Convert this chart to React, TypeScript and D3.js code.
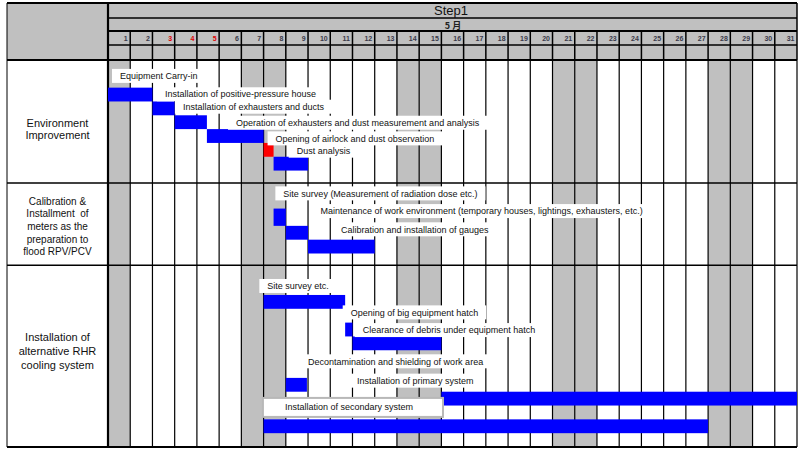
import { useEffect, useRef } from "react";
import * as d3 from "d3";

// schedule data (days counted from start of May, rows in sheet line units)
const days = d3.range(1, 32);
const weekendDays = [1, 7, 8, 14, 15, 21, 22, 28, 29];
const holidayDays = [3, 4, 5];

const groupNames = [
  ["Environment", "Improvement"],
  ["Calibration &", "Installment  of", "meters as the", "preparation to", "flood RPV/PCV"],
  ["Installation of", "alternative RHR", "cooling system"],
];
const groupEnds = [8.9, 14.85, 28];

const taskNames = [
  "Equipment Carry-in",
  "Installation of positive-pressure house",
  "Installation of exhausters and ducts",
  "Operation of exhausters and dust measurement and analysis",
  "Opening of airlock and dust observation",
  "Dust analysis",
  "Site survey (Measurement of radiation dose etc.)",
  "Maintenance of work environment (temporary houses, lightings, exhausters, etc.)",
  "Calibration and installation of gauges",
  "Site survey etc.",
  "Opening of big equipment hatch",
  "Clearance of debris under equipment hatch",
  "Decontamination and shielding of work area",
  "Installation of primary system",
  "Installation of secondary system",
];
const taskStart = [0, 2, 3, 4.45, 7, 7.45, 7.45, 8, 9, 7, 10.67, 11, 8, 15, 7];
const taskEnd = [2, 3, 4.45, 7, 7.45, 9, 8, 9, 12, 10.67, 11, 15, 8.95, 31, 27];
const taskRow = [2, 3, 4, 5, 6, 7, 10.75, 12, 13, 17, 19, 20, 23, 24, 26];
const taskRowEnd = [3, 4, 5, 6, 7, 8, 12, 13, 14, 18, 20, 21, 24, 25, 27];
const taskKind = ["work", "work", "work", "work", "check", "work", "work", "work", "work", "work", "work", "work", "work", "work", "work"];
const labelDay = [0.54, 2.56, 3.37, 5.76, 7.54, 8.49, 7.89, 9.56, 10.48, 7.17, 10.92, 11.46, 9.0, 11.2, 7.96];
const labelRow = [1.15, 2.48, 3.38, 4.54, 5.67, 6.56, 9.65, 10.93, 12.25, 16.35, 18.26, 19.54, 21.8, 23.2, 25.1];

const W = 800;
const H = 450;

export default function App() {
  const ref = useRef<SVGSVGElement | null>(null);

  useEffect(() => {
    if (!ref.current) return;
    const svg = d3.select(ref.current);
    svg.selectAll("*").remove();

    const left = 7;
    const gridLeft = 108;
    const right = 797;
    const top = 3;
    const bodyTop = 60;
    const bottom = 447;
    const gray = "#c0c0c0";
    const font = "'Liberation Sans', Arial, sans-serif";

    const x = d3.scaleLinear().domain([0, 31]).range([gridLeft, right]);
    const y = d3.scaleLinear().domain([0, 28]).range([bodyTop, bottom]);

    // background
    svg.append("rect").attr("width", W).attr("height", H).attr("fill", "#fff");

    // header block
    svg.append("rect")
      .attr("x", left).attr("y", top)
      .attr("width", right - left).attr("height", bodyTop - top)
      .attr("fill", gray);

    // weekend columns in body
    svg.append("g")
      .selectAll("rect")
      .data(weekendDays)
      .join("rect")
      .attr("x", (d) => x(d - 1))
      .attr("y", bodyTop)
      .attr("width", (d) => x(d) - x(d - 1))
      .attr("height", bottom - bodyTop)
      .attr("fill", gray);

    // body day lines
    svg.append("g")
      .selectAll("line")
      .data(days)
      .join("line")
      .attr("x1", (d) => x(d)).attr("x2", (d) => x(d))
      .attr("y1", bodyTop).attr("y2", bottom)
      .attr("stroke", "#000").attr("stroke-width", 1.2);

    // header day lines
    svg.append("g")
      .selectAll("line")
      .data(days)
      .join("line")
      .attr("x1", (d) => x(d)).attr("x2", (d) => x(d))
      .attr("y1", 31).attr("y2", bodyTop)
      .attr("stroke", "#000").attr("stroke-width", 1.5);

    // header horizontal lines
    const hLines: [number, number, number][] = [
      [top, left, 2],
      [18, gridLeft, 1.5],
      [31, gridLeft, 2],
      [45, gridLeft, 1.5],
      [bodyTop, left, 2],
    ];
    svg.append("g")
      .selectAll("line")
      .data(hLines)
      .join("line")
      .attr("x1", (d) => d[1]).attr("x2", right)
      .attr("y1", (d) => d[0]).attr("y2", (d) => d[0])
      .attr("stroke", "#000").attr("stroke-width", (d) => d[2]);

    // group separators
    svg.append("g")
      .selectAll("line")
      .data(groupEnds)
      .join("line")
      .attr("x1", left).attr("x2", right)
      .attr("y1", (d) => y(d)).attr("y2", (d) => y(d))
      .attr("stroke", "#000")
      .attr("stroke-width", (d, i) => (i === groupEnds.length - 1 ? 2 : 1.5));

    // outer verticals
    svg.append("line")
      .attr("x1", left).attr("x2", left).attr("y1", top).attr("y2", bottom)
      .attr("stroke", "#000").attr("stroke-width", 1);
    svg.append("line")
      .attr("x1", gridLeft).attr("x2", gridLeft).attr("y1", top).attr("y2", bottom)
      .attr("stroke", "#000").attr("stroke-width", 2.2);
    svg.append("line")
      .attr("x1", right).attr("x2", right).attr("y1", top).attr("y2", 31)
      .attr("stroke", "#000").attr("stroke-width", 1.5);

    // header texts
    svg.append("text")
      .attr("x", 451).attr("y", 15)
      .attr("text-anchor", "middle")
      .attr("font-family", font).attr("font-size", 13)
      .attr("fill", "#111")
      .text("Step1");
    svg.append("text")
      .attr("x", 453).attr("y", 28.5)
      .attr("text-anchor", "middle")
      .attr("font-family", "'Noto Sans CJK JP', sans-serif").attr("font-size", 9)
      .attr("font-weight", "bold")
      .attr("fill", "#222")
      .text("5 月");

    svg.append("g")
      .selectAll("text")
      .data(days)
      .join("text")
      .attr("x", (d) => x(d) - 2.5)
      .attr("y", 41)
      .attr("text-anchor", "end")
      .attr("font-family", font).attr("font-size", 7).attr("font-weight", "bold")
      .attr("fill", (d) => (holidayDays.includes(d) ? "#e00000" : "#3a3a4a"))
      .text((d) => d);

    // group labels
    const groupCenters = [129, 226.5, 351.5];
    const groupSizes = [11, 10, 11];
    const groupSpacing = [12.5, 12.6, 14];
    groupNames.forEach((lines, gi) => {
      const t = svg.append("text")
        .attr("text-anchor", "middle")
        .attr("font-family", font)
        .attr("font-size", groupSizes[gi])
        .attr("fill", "#111");
      const n = lines.length;
      lines.forEach((ln, li) => {
        t.append("tspan")
          .attr("x", (left + gridLeft) / 2)
          .attr("y", groupCenters[gi] + (li - (n - 1) / 2) * groupSpacing[gi] + groupSizes[gi] * 0.35)
          .attr("xml:space", "preserve")
          .text(ln);
      });
    });

    // task label boxes + texts
    const labels = svg.append("g");
    taskNames.forEach((name, i) => {
      const g = labels.append("g");
      const box = g.append("rect").attr("fill", "#fff");
      const t = g.append("text")
        .attr("x", x(labelDay[i]))
        .attr("y", y(labelRow[i]) + 3.2)
        .attr("font-family", font).attr("font-size", 9)
        .attr("fill", "#111")
        .text(name);
      const len = (t.node() as SVGTextElement).getComputedTextLength();
      const last = i === taskNames.length - 1;
      box
        .attr("x", x(labelDay[i]) - (last ? 22 : 8))
        .attr("y", y(labelRow[i]) - (last ? 9 : 7))
        .attr("width", len + (last ? 52 : 16))
        .attr("height", last ? 19 : 14)
        .attr("stroke", last ? "#b8b8b8" : "none")
        .attr("stroke-width", last ? 2 : 0);
    });

    // bars
    svg.append("g")
      .selectAll("rect")
      .data(taskNames.map((_, i) => i))
      .join("rect")
      .attr("x", (i) => x(taskStart[i]))
      .attr("y", (i) => y(taskRow[i]))
      .attr("width", (i) => x(taskEnd[i]) - x(taskStart[i]))
      .attr("height", (i) => y(taskRowEnd[i]) - y(taskRow[i]))
      .attr("fill", (i) => (taskKind[i] === "check" ? "#ff0000" : "#0000ff"));

    labels.raise();
  }, []);

  return (
    <svg
      ref={ref}
      width={W}
      height={H}
      style={{ display: "block", position: "absolute", left: 0, top: 0 }}
    />
  );
}
